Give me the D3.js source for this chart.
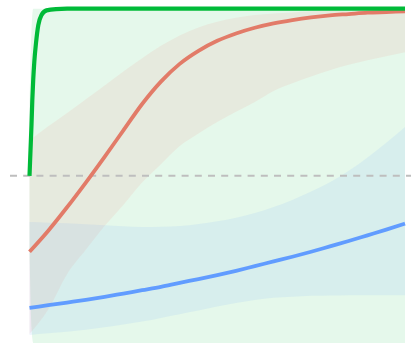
<!DOCTYPE html>
<html>
<head>
<meta charset="utf-8">
<script src="https://cdn.jsdelivr.net/npm/d3@7"></script>
<style>
  html, body { margin: 0; padding: 0; background: #ffffff; }
  svg { display: block; }
</style>
</head>
<body>
<svg id="chart" width="411" height="343"></svg>
<script>
// Shared x grid for the red and blue curves and their bands
const xGrid = [0, 0.5, 1, 1.5, 2, 2.5, 3, 3.5, 4, 4.5, 5, 5.5, 6, 6.5, 7, 7.5, 8, 8.5, 9, 9.5, 10];

// Red series: fitted probability and interval
const redFit   = [0.273, 0.336, 0.406, 0.480, 0.557, 0.636, 0.715, 0.782, 0.835, 0.874, 0.904, 0.926, 0.943, 0.956, 0.966, 0.974, 0.980, 0.984, 0.988, 0.990, 0.992];
const redUpper = [0.606, 0.648, 0.688, 0.729, 0.770, 0.812, 0.852, 0.889, 0.920, 0.944, 0.961, 0.973, 0.981, 0.986, 0.989, 0.992, 0.993, 0.994, 0.995, 0.995, 0.996];
const redLower = [0.027, 0.100, 0.206, 0.279, 0.350, 0.413, 0.480, 0.535, 0.589, 0.627, 0.661, 0.692, 0.721, 0.754, 0.777, 0.797, 0.816, 0.832, 0.846, 0.858, 0.870];

// Blue series: fitted probability and interval
const blueFit   = [0.105, 0.113, 0.121, 0.129, 0.138, 0.148, 0.158, 0.168, 0.180, 0.191, 0.203, 0.216, 0.230, 0.244, 0.258, 0.273, 0.289, 0.305, 0.322, 0.339, 0.357];
const blueUpper = [0.362, 0.360, 0.358, 0.355, 0.352, 0.349, 0.347, 0.348, 0.350, 0.356, 0.364, 0.375, 0.389, 0.407, 0.428, 0.453, 0.481, 0.515, 0.555, 0.599, 0.646];
const blueLower = [0.024, 0.029, 0.034, 0.040, 0.047, 0.055, 0.064, 0.075, 0.086, 0.097, 0.109, 0.120, 0.129, 0.135, 0.138, 0.141, 0.142, 0.143, 0.143, 0.143, 0.143];

// Green series: saturates almost immediately, so it gets a finer grid near zero
const greenX     = [0, 0.027, 0.053, 0.075, 0.099, 0.128, 0.173, 0.234, 0.32, 0.453, 0.706, 1, 2, 4, 6, 8, 10];
const greenFit   = [0.5, 0.577, 0.652, 0.727, 0.787, 0.841, 0.897, 0.951, 0.981, 0.995, 0.999, 1, 1, 1, 1, 1, 1];
const greenBandX     = [0, 0.05, 0.1, 0.15, 10];
const greenBandUpper = [0.72, 0.93, 1, 1, 1];
const greenBandLower = [0.28, 0.05, 0, 0, 0];

// Reference level
const refLevel = 0.5;

const colors = { red: "#E27B68", green: "#00BA38", blue: "#619CFF" };
const bandColors = { red: "#F8766D", green: "#00BA38", blue: "#619CFF" };

const svg = d3.select("#chart");
const W = 411, H = 343;

const x = d3.scaleLinear().domain([0, 10]).range([29.5, 405]);
const y = d3.scaleLinear().domain([0, 1]).range([343, 8.7]);

const zip = (xs, ...cols) => xs.map((v, i) => [v, ...cols.map(c => c[i])]);

const area = d3.area()
  .x(d => x(d[0]))
  .y0(d => y(d[1]))
  .y1(d => y(d[2]))
  .curve(d3.curveMonotoneX);

const line = d3.line()
  .x(d => x(d[0]))
  .y(d => y(d[1]))
  .curve(d3.curveMonotoneX);

// Confidence bands
const gBands = svg.append("g");
gBands.append("path")
  .attr("d", area(zip(greenBandX, greenBandLower, greenBandUpper)))
  .attr("fill", bandColors.green).attr("fill-opacity", 0.1);
gBands.append("path")
  .attr("d", area(zip(xGrid, redLower, redUpper)))
  .attr("fill", bandColors.red).attr("fill-opacity", 0.1);
gBands.append("path")
  .attr("d", area(zip(xGrid, blueLower, blueUpper)))
  .attr("fill", bandColors.blue).attr("fill-opacity", 0.1);

// Dashed reference line across the panel
svg.append("line")
  .attr("x1", 10).attr("x2", W)
  .attr("y1", y(refLevel)).attr("y2", y(refLevel))
  .attr("stroke", "#bebebe")
  .attr("stroke-width", 2)
  .attr("stroke-dasharray", "7,6.2");

// Fitted curves
const gLines = svg.append("g").attr("fill", "none").attr("stroke-linecap", "butt");
gLines.append("path")
  .attr("d", line(zip(xGrid, blueFit)))
  .attr("stroke", colors.blue).attr("stroke-width", 3.8);
gLines.append("path")
  .attr("d", line(zip(xGrid, redFit)))
  .attr("stroke", colors.red).attr("stroke-width", 3.8);
gLines.append("path")
  .attr("d", line(zip(greenX, greenFit)))
  .attr("stroke", colors.green).attr("stroke-width", 4.2);
</script>
</body>
</html>
